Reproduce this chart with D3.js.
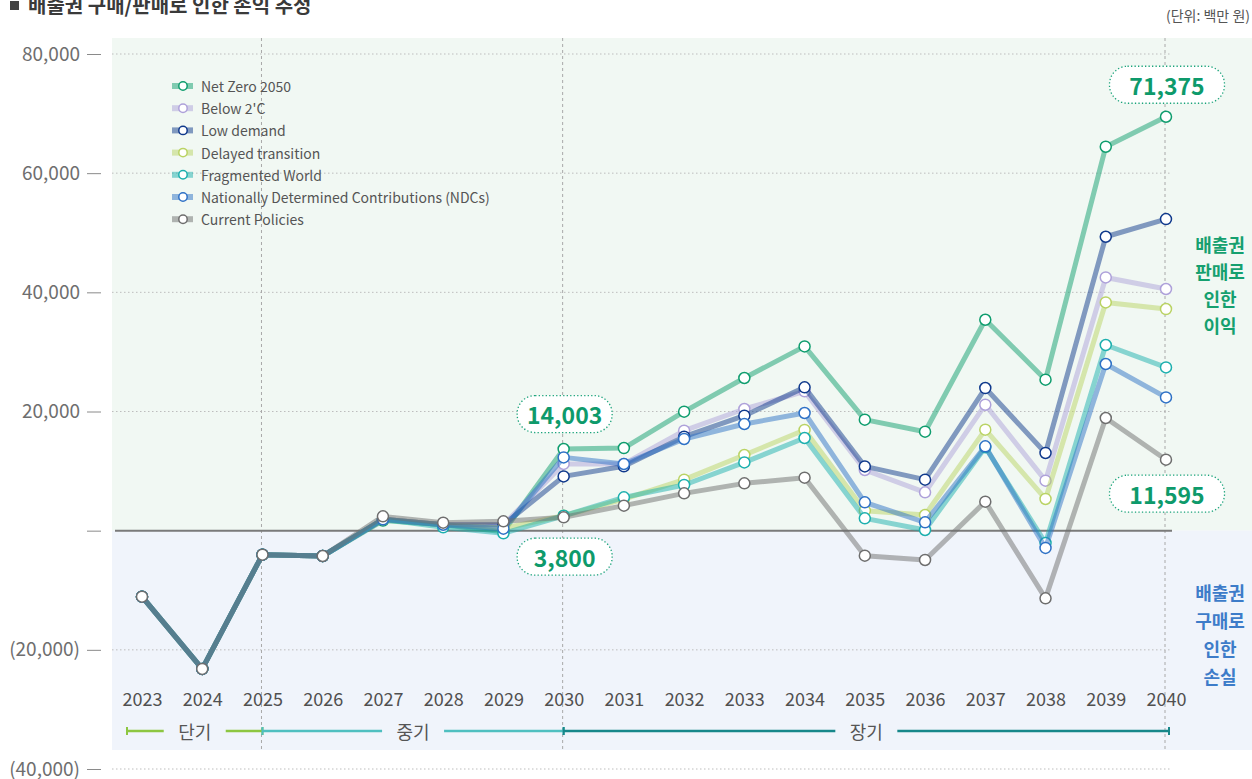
<!DOCTYPE html>
<html>
<head>
<meta charset="utf-8">
<script src="https://cdn.jsdelivr.net/npm/d3@7"></script>
<style>
  body { margin: 0; background: #fff; }
  svg { display: block; font-family: "Noto Sans CJK KR", "Noto Sans", sans-serif; }
</style>
</head>
<body>
<div id="chart"></div>
<script>
// data (백만 원)
const years = [2023, 2024, 2025, 2026, 2027, 2028, 2029, 2030, 2031, 2032, 2033, 2034, 2035, 2036, 2037, 2038, 2039, 2040]

const seriesNames = ["Net Zero 2050", "Below 2'C", "Low demand", "Delayed transition", "Fragmented World", "Nationally Determined Contributions (NDCs)", "Current Policies"]

const netZero   = [-11070, -23200, -4030, -4250, 1700, 1000, -170, 13700, 13870, 19970, 25620, 30930, 18630, 16610, 35400, 25340, 64440, 69470]
const below2C   = [-11070, -23200, -4030, -4250, 1900, 1000, 1000, 11200, 11200, 16780, 20420, 23380, 10180, 6430, 21140, 8390, 42500, 40560]
const lowDemand = [-11070, -23200, -4030, -4250, 1900, 1000, 1000, 9110, 10800, 15770, 19300, 24050, 10790, 8560, 23940, 13040, 49330, 52300]
const delayed   = [-11070, -23200, -4030, -4250, 1900, 1000, 400, 2500, 5300, 8560, 12700, 16900, 3360, 2630, 16950, 5320, 38310, 37200]
const fragmented = [-11070, -23200, -4030, -4250, 1900, 560, -450, 2500, 5590, 7670, 11460, 15550, 2070, 110, 14000, -2070, 31160, 27400]
const ndcs      = [-11070, -23200, -4030, -4250, 1900, 1000, 330, 12300, 11190, 15390, 17900, 19750, 4750, 1400, 14150, -2900, 27970, 22370]
const current   = [-11070, -23200, -4030, -4250, 2400, 1340, 1560, 2240, 4200, 6260, 7940, 8890, -4200, -4920, 4870, -11360, 18910, 11910]

const seriesValues = [netZero, below2C, lowDemand, delayed, fragmented, ndcs, current]
const seriesColors = ["#0f9d6e", "#aea1da", "#10398c", "#bad364", "#1cafae", "#2e71c6", "#6e6e6e"]

const yTicks = [-40000, -20000, 0, 20000, 40000, 60000, 80000]

const periods = ["단기", "중기", "장기"]
const periodStarts = [2023, 2025, 2030]
const periodEnds = [2025, 2030, 2040]
const periodColors = ["#8dc641", "#4fbfc0", "#17878a"]

const callouts = ["71,375", "14,003", "3,800", "11,595"]
const calloutYears = [2040, 2030, 2030, 2040]

const sellLabel = ["배출권", "판매로", "인한", "이익"]
const buyLabel = ["배출권", "구매로", "인한", "손실"]

function drawChart() {
  const width = 1252
  const height = 779

  const svg = d3.select("#chart")
    .append("svg")
    .attr("width", width)
    .attr("height", height)

  // scales
  const xScale = d3.scalePoint()
    .domain(years)
    .range([142, 1166])

  const yScale = d3.scaleLinear()
    .domain([-40000, 80000])
    .range([769, 54])

  const plotLeft = 112
  const plotRight = 1172
  const bgTop = 38
  const bgBottom = 750

  // backgrounds: profit (green) and loss (blue) areas
  svg.append("rect")
    .attr("x", plotLeft).attr("y", bgTop)
    .attr("width", width - plotLeft).attr("height", yScale(0) - bgTop)
    .attr("fill", "#f1f8f3")

  svg.append("rect")
    .attr("x", plotLeft).attr("y", yScale(0))
    .attr("width", width - plotLeft).attr("height", bgBottom - yScale(0))
    .attr("fill", "#f0f4fb")

  // title + unit
  svg.append("rect")
    .attr("x", 10).attr("y", 1).attr("width", 9).attr("height", 9)
    .attr("fill", "#444")

  svg.append("text")
    .attr("x", 28).attr("y", 13)
    .attr("font-size", "20px")
    .attr("font-weight", "bold")
    .attr("fill", "#3a3a3a")
    .text("배출권 구매/판매로 인한 손익 추정")

  svg.append("text")
    .attr("x", 1250).attr("y", 21)
    .attr("text-anchor", "end")
    .attr("font-size", "14px")
    .attr("fill", "#555")
    .text("(단위: 백만 원)")

  // grid lines
  svg.append("g")
    .selectAll("line")
    .data(yTicks.filter(d => d !== 0))
    .join("line")
    .attr("x1", plotLeft).attr("x2", plotRight)
    .attr("y1", d => yScale(d)).attr("y2", d => yScale(d))
    .attr("stroke", "#bdbdbd")
    .attr("stroke-width", 1)
    .attr("stroke-dasharray", "1.5,2.5")

  // period separators
  svg.append("g")
    .selectAll("line")
    .data([2025, 2030, 2040])
    .join("line")
    .attr("x1", d => xScale(d) - 1).attr("x2", d => xScale(d) - 1)
    .attr("y1", bgTop).attr("y2", bgBottom)
    .attr("stroke", "#a8a8a8")
    .attr("stroke-width", 1)
    .attr("stroke-dasharray", "3,3")

  // zero line
  svg.append("line")
    .attr("x1", 115).attr("x2", plotRight)
    .attr("y1", yScale(0)).attr("y2", yScale(0))
    .attr("stroke", "#7a7a7a")
    .attr("stroke-width", 2)

  // y axis
  const fmt = d3.format(",")
  const yAxis = d3.axisLeft(yScale)
    .tickValues(yTicks)
    .tickSize(14)
    .tickPadding(7)
    .tickFormat(d => d === 0 ? "" : d < 0 ? `(${fmt(-d)})` : fmt(d))

  const yAxisG = svg.append("g")
    .attr("transform", "translate(101, 0)")
    .call(yAxis)
  yAxisG.select(".domain").remove()
  yAxisG.selectAll("line").attr("stroke", "#8a8a8a")
  yAxisG.selectAll("text")
    .attr("font-family", "Noto Sans CJK KR, Noto Sans, sans-serif")
    .attr("font-size", "19px")
    .attr("fill", "#6e6e6e")

  // x axis labels
  const xAxis = d3.axisBottom(xScale)
    .tickSize(0)
    .tickPadding(0)

  const xAxisG = svg.append("g")
    .attr("transform", "translate(0, 693)")
    .call(xAxis)
  xAxisG.select(".domain").remove()
  xAxisG.selectAll("text")
    .attr("font-family", "Noto Sans CJK KR, Noto Sans, sans-serif")
    .attr("font-size", "18px")
    .attr("fill", "#505050")

  // period bar
  const barY = 731
  periods.forEach((p, i) => {
    const x0 = i === 0 ? xScale(periodStarts[i]) - 15 : xScale(periodStarts[i])
    const x1 = i === periods.length - 1 ? xScale(periodEnds[i]) + 3 : xScale(periodEnds[i])
    const mid = (x0 + x1) / 2
    const gap = 31
    const g = svg.append("g")
    g.append("line")
      .attr("x1", x0).attr("x2", mid - gap)
      .attr("y1", barY).attr("y2", barY)
      .attr("stroke", periodColors[i]).attr("stroke-width", 2.5)
    g.append("line")
      .attr("x1", mid + gap).attr("x2", x1)
      .attr("y1", barY).attr("y2", barY)
      .attr("stroke", periodColors[i]).attr("stroke-width", 2.5)
    g.selectAll(".cap")
      .data([x0, x1])
      .join("line")
      .attr("x1", d => d).attr("x2", d => d)
      .attr("y1", barY - 4).attr("y2", barY + 4)
      .attr("stroke", periodColors[i]).attr("stroke-width", 2)
    g.append("text")
      .attr("x", mid).attr("y", barY)
      .attr("text-anchor", "middle")
      .attr("dominant-baseline", "central")
      .attr("font-size", "18px")
      .attr("fill", "#555")
      .text(p)
  })

  // lines + markers
  const lineGenerator = d3.line()
    .x(d => xScale(d.year))
    .y(d => yScale(d.value))

  seriesValues.forEach((vals, i) => {
    const data = years.map((yr, j) => ({ year: yr, value: vals[j] }))
    svg.append("path")
      .datum(data)
      .attr("d", lineGenerator)
      .attr("fill", "none")
      .attr("stroke", seriesColors[i])
      .attr("stroke-opacity", 0.5)
      .attr("stroke-width", 5)
      .attr("stroke-linejoin", "round")

    svg.append("g")
      .selectAll("circle")
      .data(data)
      .join("circle")
      .attr("cx", d => xScale(d.year))
      .attr("cy", d => yScale(d.value))
      .attr("r", 5.5)
      .attr("fill", "#fff")
      .attr("stroke", seriesColors[i])
      .attr("stroke-width", 1.5)
  })

  // legend
  const legend = svg.append("g")
    .attr("transform", "translate(172, 86)")
  seriesNames.forEach((name, i) => {
    const row = legend.append("g").attr("transform", `translate(0, ${i * 22.2})`)
    row.append("line")
      .attr("x1", 0).attr("x2", 21)
      .attr("stroke", seriesColors[i])
      .attr("stroke-opacity", 0.5)
      .attr("stroke-width", 6)
    row.append("circle")
      .attr("cx", 11).attr("r", 4.2)
      .attr("fill", "#fff")
      .attr("stroke", seriesColors[i])
      .attr("stroke-width", 1.5)
    row.append("text")
      .attr("x", 29)
      .attr("dominant-baseline", "central")
      .attr("font-size", "14px")
      .attr("fill", "#555")
      .text(name)
  })

  // callouts
  const calloutAnchor = [
    yScale(netZero[17]) - 32,
    yScale(netZero[7]) - 35,
    yScale(0) + 26,
    yScale(current[17]) + 34
  ]
  callouts.forEach((t, i) => {
    const w = calloutYears[i] === 2040 ? 115 : 95
    const cx = xScale(calloutYears[i]) + 1
    const cy = calloutAnchor[i]
    svg.append("rect")
      .attr("x", cx - w / 2).attr("y", cy - 18.5)
      .attr("width", w).attr("height", 37)
      .attr("rx", 18).attr("ry", 18)
      .attr("fill", "#fff")
      .attr("stroke", "#1aa37a")
      .attr("stroke-width", 1.3)
      .attr("stroke-dasharray", "1.3,2.2")
    svg.append("text")
      .attr("x", cx).attr("y", cy)
      .attr("text-anchor", "middle")
      .attr("dominant-baseline", "central")
      .attr("font-size", "23px")
      .attr("font-weight", "bold")
      .attr("fill", "#0e9a6b")
      .text(t)
  })

  // side labels
  svg.append("g")
    .selectAll("text")
    .data(sellLabel)
    .join("text")
    .attr("x", 1220)
    .attr("y", (d, i) => 243.5 + i * 27)
    .attr("text-anchor", "middle")
    .attr("dominant-baseline", "central")
    .attr("font-size", "18px")
    .attr("font-weight", "bold")
    .attr("fill", "#15a06f")
    .text(d => d)

  svg.append("g")
    .selectAll("text")
    .data(buyLabel)
    .join("text")
    .attr("x", 1220)
    .attr("y", (d, i) => 592 + i * 28)
    .attr("text-anchor", "middle")
    .attr("dominant-baseline", "central")
    .attr("font-size", "18px")
    .attr("font-weight", "bold")
    .attr("fill", "#3d7cc9")
    .text(d => d)
}

drawChart()
</script>
</body>
</html>
